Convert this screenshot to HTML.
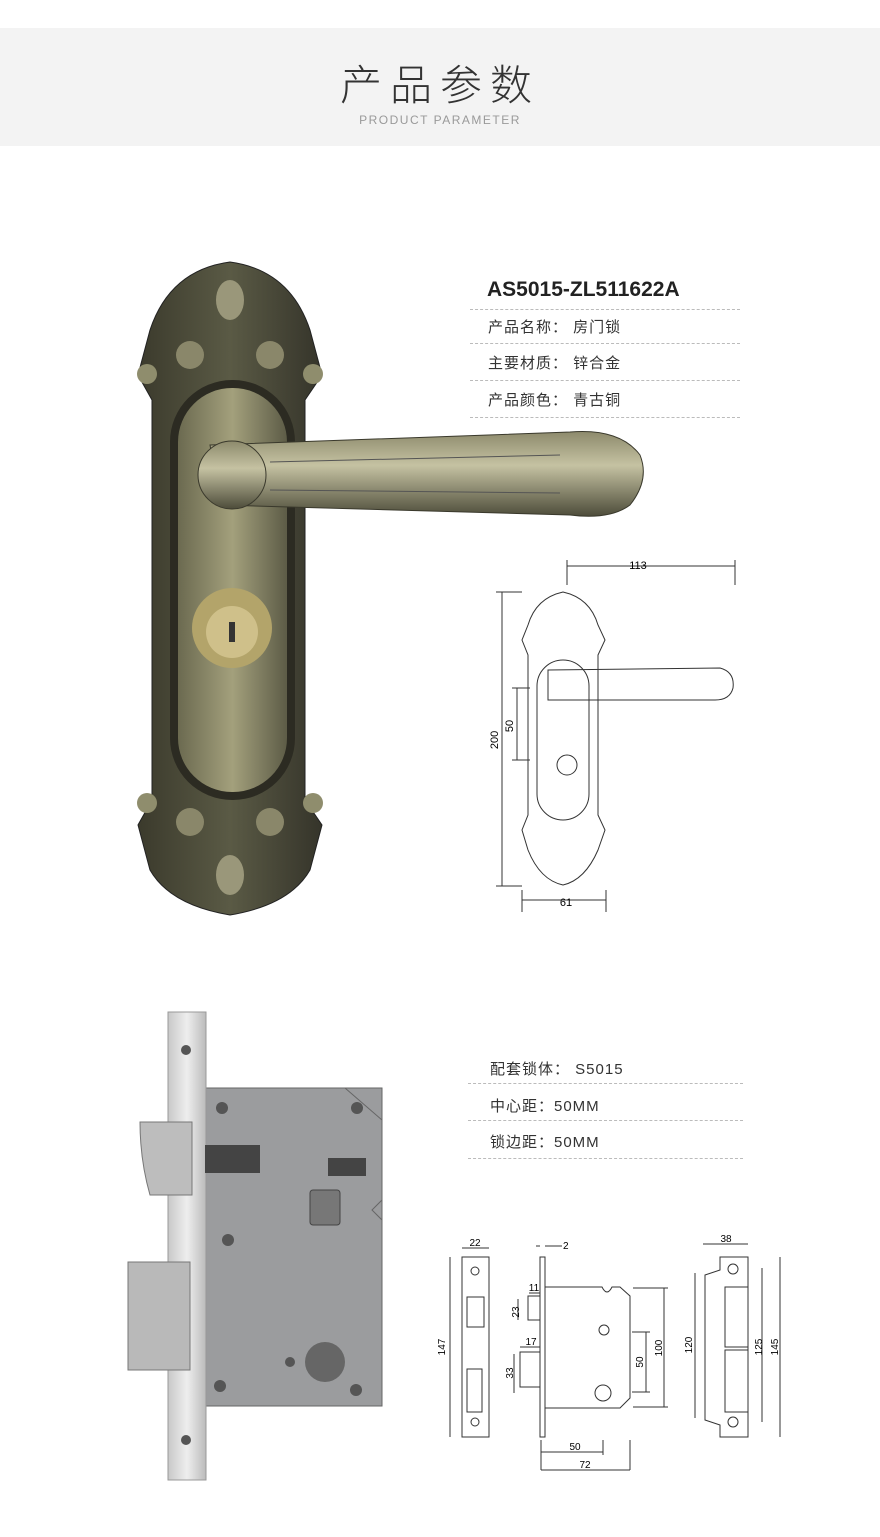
<!DOCTYPE html><html><head><meta charset="utf-8"><style>
body{margin:0;width:880px;height:1537px;background:#fff;font-family:"Liberation Sans","Noto Sans CJK SC",sans-serif;position:relative;overflow:hidden}
.hd{position:absolute;left:0;top:28px;width:880px;height:118px;background:#f3f3f3}
.t{position:absolute;left:0;width:880px;text-align:center}
.row{position:absolute;font-size:15px;color:#333;letter-spacing:1px}
.dl{position:absolute;height:0;border-top:1px dashed #bbb}
</style></head><body>
<div class="hd"></div>
<div class="t" style="top:52px;font-size:42px;color:#333;letter-spacing:8px;font-family:'Noto Sans CJK SC',sans-serif;font-weight:300">产品参数</div>
<div class="t" style="top:113px;font-size:12px;color:#999;letter-spacing:1.5px">PRODUCT PARAMETER</div>

<div class="row" style="left:487px;top:278px;font-size:21px;font-weight:bold;color:#222;letter-spacing:0">AS5015-ZL511622A</div>
<div class="dl" style="left:470px;top:309px;width:270px"></div>
<div class="row" style="left:488px;top:316px">产品名称： 房门锁</div>
<div class="dl" style="left:470px;top:343px;width:270px"></div>
<div class="row" style="left:488px;top:352px">主要材质： 锌合金</div>
<div class="dl" style="left:470px;top:380px;width:270px"></div>
<div class="row" style="left:488px;top:389px">产品颜色： 青古铜</div>
<div class="dl" style="left:470px;top:417px;width:270px"></div>

<div class="row" style="left:490px;top:1058px">配套锁体： S5015</div>
<div class="dl" style="left:468px;top:1083px;width:275px"></div>
<div class="row" style="left:490px;top:1095px">中心距：50MM</div>
<div class="dl" style="left:468px;top:1120px;width:275px"></div>
<div class="row" style="left:490px;top:1131px">锁边距：50MM</div>
<div class="dl" style="left:468px;top:1158px;width:275px"></div>

<svg width="880" height="1537" style="position:absolute;left:0;top:0" font-family="Liberation Sans" font-size="11">
<defs>
<linearGradient id="br" x1="0" x2="1"><stop offset="0" stop-color="#3b3a2c"/><stop offset=".5" stop-color="#5a5a45"/><stop offset="1" stop-color="#35342a"/></linearGradient>
<linearGradient id="inn" x1="0" x2="1"><stop offset="0" stop-color="#6b6a50"/><stop offset=".5" stop-color="#a3a07c"/><stop offset="1" stop-color="#5d5c47"/></linearGradient>
<linearGradient id="lv" x1="0" y1="0" x2="0" y2="1"><stop offset="0" stop-color="#8d8a6c"/><stop offset=".4" stop-color="#c5c2a2"/><stop offset="1" stop-color="#4d4c3a"/></linearGradient>
<linearGradient id="sv" x1="0" x2="1"><stop offset="0" stop-color="#c8c8c8"/><stop offset=".5" stop-color="#eee"/><stop offset="1" stop-color="#bbb"/></linearGradient>
</defs>
<!-- handle backplate -->
<path d="M230 262 Q290 270 310 330 L322 375 L305 400 L305 800 L322 825 L310 870 Q290 905 230 915 Q170 905 150 870 L138 825 L152 800 L152 400 L138 375 L150 330 Q170 270 230 262Z" fill="url(#br)" stroke="#222"/>
<rect x="170" y="380" width="125" height="420" rx="62" fill="#2c2b22"/>
<rect x="178" y="388" width="109" height="404" rx="54" fill="url(#inn)"/>
<circle cx="147" cy="374" r="10" fill="#8f8d6d"/><circle cx="313" cy="374" r="10" fill="#8f8d6d"/>
<circle cx="147" cy="803" r="10" fill="#8f8d6d"/><circle cx="313" cy="803" r="10" fill="#8f8d6d"/>
<circle cx="190" cy="355" r="14" fill="#8a876a"/><circle cx="270" cy="355" r="14" fill="#8a876a"/>
<circle cx="190" cy="822" r="14" fill="#8a876a"/><circle cx="270" cy="822" r="14" fill="#8a876a"/>
<ellipse cx="230" cy="300" rx="14" ry="20" fill="#9a977a"/><ellipse cx="230" cy="875" rx="14" ry="20" fill="#9a977a"/>
<circle cx="232" cy="628" r="40" fill="#b3a46a"/><circle cx="232" cy="632" r="26" fill="#cfc08a"/>
<rect x="229" y="622" width="6" height="20" fill="#333"/>
<!-- lever -->
<path d="M210 445 L570 432 Q620 428 640 455 Q650 480 630 505 Q610 520 570 515 L220 505 Z" fill="url(#lv)" stroke="#3a392c"/>
<circle cx="232" cy="475" r="34" fill="url(#lv)" stroke="#3a392c"/>
<line x1="270" y1="462" x2="560" y2="455" stroke="#555" /><line x1="270" y1="490" x2="560" y2="493" stroke="#555"/>
<!-- line drawing handle -->
<g fill="none" stroke="#333" stroke-width="1">
<path d="M563 592 Q590 598 598 625 L605 640 L598 655 L598 815 L605 830 L598 850 Q585 880 563 885 Q540 880 528 850 L522 830 L528 815 L528 655 L522 640 L528 625 Q536 598 563 592Z"/>
<rect x="537" y="660" width="52" height="160" rx="26"/>
<path d="M548 670 L720 668 Q735 672 733 688 Q730 700 715 700 L548 700 Z"/>
<circle cx="567" cy="765" r="10"/>
<line x1="567" y1="566" x2="735" y2="566"/><line x1="567" y1="560" x2="567" y2="585"/><line x1="735" y1="560" x2="735" y2="585"/>
<line x1="502" y1="592" x2="502" y2="886"/><line x1="496" y1="592" x2="522" y2="592"/><line x1="496" y1="886" x2="522" y2="886"/>
<line x1="517" y1="688" x2="517" y2="760"/><line x1="512" y1="688" x2="530" y2="688"/><line x1="512" y1="760" x2="530" y2="760"/>
<line x1="522" y1="890" x2="522" y2="912"/><line x1="606" y1="890" x2="606" y2="912"/><line x1="522" y1="900" x2="606" y2="900"/>
</g>
<text x="638" y="569" text-anchor="middle">113</text>
<text x="566" y="906" text-anchor="middle">61</text>
<text transform="translate(498 740) rotate(-90)" text-anchor="middle">200</text>
<text transform="translate(513 726) rotate(-90)" text-anchor="middle">50</text>
<!-- mortise lock photo -->
<rect x="205" y="1088" width="177" height="318" fill="#9b9c9e" stroke="#666"/>
<path d="M345 1088 L382 1120 L382 1200 L372 1210 L382 1220 L382 1406" fill="none" stroke="#666"/>
<rect x="168" y="1012" width="38" height="468" fill="url(#sv)" stroke="#999"/>
<circle cx="186" cy="1050" r="5" fill="#555"/><circle cx="186" cy="1440" r="5" fill="#555"/>
<path d="M140 1122 L192 1122 L192 1195 L150 1195 Q140 1160 140 1122Z" fill="#bdbdbd" stroke="#777"/>
<rect x="128" y="1262" width="62" height="108" fill="#b9b9b9" stroke="#777"/>
<rect x="205" y="1145" width="55" height="28" fill="#444"/>
<rect x="310" y="1190" width="30" height="35" rx="3" fill="#777" stroke="#444"/>
<rect x="328" y="1158" width="38" height="18" fill="#444"/>
<circle cx="325" cy="1362" r="20" fill="#666"/>
<g fill="#555"><circle cx="222" cy="1108" r="6"/><circle cx="357" cy="1108" r="6"/><circle cx="228" cy="1240" r="6"/><circle cx="220" cy="1386" r="6"/><circle cx="356" cy="1390" r="6"/><circle cx="290" cy="1362" r="5"/></g>
<!-- bottom technical drawings -->
<g fill="none" stroke="#333" stroke-width="1">
<rect x="462" y="1257" width="27" height="180"/>
<rect x="467" y="1297" width="17" height="30"/><rect x="467" y="1369" width="15" height="43"/>
<circle cx="475" cy="1271" r="4"/><circle cx="475" cy="1422" r="4"/>
<line x1="462" y1="1248" x2="489" y2="1248"/><line x1="450" y1="1257" x2="450" y2="1437"/>
<rect x="540" y="1257" width="5" height="180"/>
<path d="M545 1287 L602 1287 Q607 1297 612 1287 L620 1287 L630 1296 L630 1398 L620 1408 L545 1408Z"/>
<rect x="528" y="1296" width="12" height="24"/><rect x="520" y="1352" width="20" height="35"/>
<circle cx="604" cy="1330" r="5"/><circle cx="603" cy="1393" r="8"/>
<line x1="545" y1="1246" x2="562" y2="1246"/><line x1="536" y1="1246" x2="540" y2="1246"/>
<line x1="529" y1="1293" x2="540" y2="1293"/><line x1="520" y1="1347" x2="540" y2="1347"/>
<line x1="518" y1="1299" x2="518" y2="1320"/><line x1="514" y1="1354" x2="514" y2="1393"/>
<line x1="633" y1="1288" x2="668" y2="1288"/><line x1="633" y1="1407" x2="668" y2="1407"/><line x1="664" y1="1288" x2="664" y2="1407"/>
<line x1="632" y1="1332" x2="650" y2="1332"/><line x1="632" y1="1392" x2="650" y2="1392"/><line x1="646" y1="1332" x2="646" y2="1392"/>
<line x1="541" y1="1440" x2="541" y2="1470"/><line x1="603" y1="1440" x2="603" y2="1455"/><line x1="630" y1="1440" x2="630" y2="1470"/>
<line x1="541" y1="1452" x2="603" y2="1452"/><line x1="541" y1="1470" x2="630" y2="1470"/>
<path d="M720 1257 L748 1257 L748 1437 L720 1437 L720 1425 L705 1420 L705 1275 L720 1270Z"/>
<rect x="725" y="1287" width="23" height="60"/><rect x="725" y="1350" width="23" height="62"/>
<circle cx="733" cy="1269" r="5"/><circle cx="733" cy="1422" r="5"/>
<line x1="703" y1="1244" x2="748" y2="1244"/>
<line x1="695" y1="1273" x2="695" y2="1418"/><line x1="762" y1="1268" x2="762" y2="1422"/><line x1="780" y1="1257" x2="780" y2="1437"/>
</g>
<g font-size="10">
<text x="475" y="1246" text-anchor="middle">22</text>
<text x="563" y="1249">2</text>
<text x="534" y="1291" text-anchor="middle">11</text>
<text x="531" y="1345" text-anchor="middle">17</text>
<text x="575" y="1450" text-anchor="middle">50</text>
<text x="585" y="1468" text-anchor="middle">72</text>
<text x="726" y="1242" text-anchor="middle">38</text>
<text transform="translate(445 1347) rotate(-90)" text-anchor="middle">147</text>
<text transform="translate(519 1312) rotate(-90)" text-anchor="middle">23</text>
<text transform="translate(513 1373) rotate(-90)" text-anchor="middle">33</text>
<text transform="translate(643 1362) rotate(-90)" text-anchor="middle">50</text>
<text transform="translate(662 1348) rotate(-90)" text-anchor="middle">100</text>
<text transform="translate(692 1345) rotate(-90)" text-anchor="middle">120</text>
<text transform="translate(762 1347) rotate(-90)" text-anchor="middle">125</text>
<text transform="translate(778 1347) rotate(-90)" text-anchor="middle">145</text>
</g>
</svg>
</body></html>
